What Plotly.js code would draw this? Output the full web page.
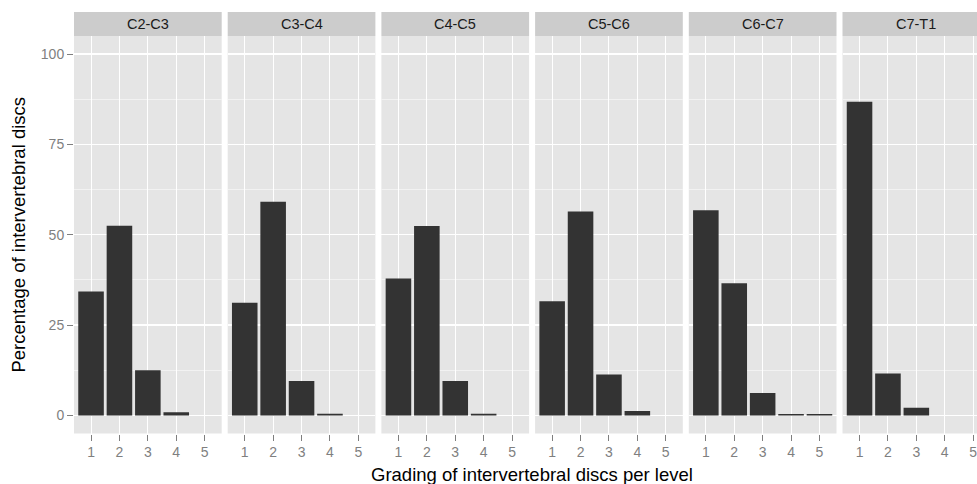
<!DOCTYPE html>
<html>
<head>
<meta charset="utf-8">
<script src="https://cdn.plot.ly/plotly-3.0.1.min.js"></script>
<style>
html,body{margin:0;padding:0;overflow:hidden;background:#fff;width:977px;height:484px;}
#chart{width:1000px;height:484px;}
</style>
</head>
<body>
<div id="chart"></div>
<script>
// ---- data ----
const levels = ['C2-C3', 'C3-C4', 'C4-C5', 'C5-C6', 'C6-C7', 'C7-T1'];
const grades = [1, 2, 3, 4, 5];
const gradeLabels = ['1', '2', '3', '4', '5'];
const pctC2C3 = [34.3, 52.5, 12.5, 0.9, 0];
const pctC3C4 = [31.2, 59.1, 9.5, 0.5, 0];
const pctC4C5 = [37.9, 52.4, 9.5, 0.5, 0];
const pctC5C6 = [31.6, 56.4, 11.3, 1.2, 0];
const pctC6C7 = [56.8, 36.6, 6.2, 0.4, 0.4];
const pctC7T1 = [86.8, 11.6, 2.1, 0, 0];
const yTicks = [0, 25, 50, 75, 100];
const yTickLabels = ['0', '25', '50', '75', '100'];

const series = [pctC2C3, pctC3C4, pctC4C5, pctC5C6, pctC6C7, pctC7T1];

// ---- layout geometry (pixels in a 1000px wide figure) ----
const FIG_W = 1000, FIG_H = 484;
const panelLeft0 = 74, panelW = 147.7, panelStep = 153.7;
const panelTop = 36, panelBottom = 433.5, stripTop = 12;
const yDom = [1 - panelBottom / FIG_H, 1 - panelTop / FIG_H];

const traces = [];
const layout = {
  width: FIG_W, height: FIG_H,
  margin: {l: 0, r: 0, t: 0, b: 0, pad: 0},
  paper_bgcolor: '#ffffff',
  plot_bgcolor: '#e5e5e5',
  showlegend: false,
  bargap: 0.1,
  font: {family: 'Liberation Sans, Arial, sans-serif', color: '#7f7f7f'},
  shapes: [],
  annotations: [],
  yaxis: {
    domain: yDom,
    range: [-5, 105],
    tickvals: yTicks,
    ticktext: yTickLabels,
    ticks: 'outside', ticklen: 6, tickwidth: 1, tickcolor: '#7f7f7f',
    tickfont: {size: 14, color: '#7f7f7f'},
    showgrid: true, gridcolor: '#ffffff', gridwidth: 1.3,
    minor: {dtick: 12.5, tick0: 0, showgrid: true, gridcolor: '#f2f2f2', gridwidth: 1, ticks: ''},
    zeroline: false, showline: false,
    fixedrange: true,
    title: {text: 'Percentage of intervertebral discs', font: {size: 18.5, color: '#000000'}, standoff: 10}
  }
};

levels.forEach((lvl, i) => {
  const ax = i === 0 ? '' : String(i + 1);
  const left = panelLeft0 + i * panelStep;
  const right = left + panelW;
  traces.push({
    type: 'bar',
    x: grades,
    y: series[i],
    xaxis: 'x' + ax,
    yaxis: 'y',
    width: 0.9,
    marker: {color: '#333333', line: {width: 0}},
    hoverinfo: 'skip'
  });
  layout['xaxis' + ax] = {
    domain: [left / FIG_W, right / FIG_W],
    anchor: 'y',
    range: [0.4, 5.6],
    tickvals: grades,
    ticktext: gradeLabels,
    ticks: 'outside', ticklen: 6, tickwidth: 1, tickcolor: '#7f7f7f',
    tickfont: {size: 14, color: '#7f7f7f'},
    showgrid: true, gridcolor: '#ffffff', gridwidth: 1,
    zeroline: false, showline: false,
    fixedrange: true
  };
  layout.shapes.push({
    type: 'rect', xref: 'paper', yref: 'paper',
    x0: left / FIG_W, x1: right / FIG_W,
    y0: 1 - panelTop / FIG_H, y1: 1 - stripTop / FIG_H,
    fillcolor: '#cccccc', line: {width: 0}, layer: 'below'
  });
  layout.annotations.push({
    xref: 'paper', yref: 'paper',
    x: (left + right) / 2 / FIG_W, y: 1 - (stripTop + panelTop) / 2 / FIG_H,
    xanchor: 'center', yanchor: 'middle',
    text: lvl, showarrow: false,
    font: {size: 14.5, color: '#1a1a1a'}
  });
});

const lastRight = panelLeft0 + 5 * panelStep + panelW;
layout.annotations.push({
  xref: 'paper', yref: 'paper',
  x: (panelLeft0 + lastRight) / 2 / FIG_W, y: 1 - 474 / FIG_H,
  xanchor: 'center', yanchor: 'middle',
  text: 'Grading of intervertebral discs per level', showarrow: false,
  font: {size: 18.5, color: '#000000'}
});

Plotly.newPlot('chart', traces, layout, {displayModeBar: false, staticPlot: true});
</script>
</body>
</html>
